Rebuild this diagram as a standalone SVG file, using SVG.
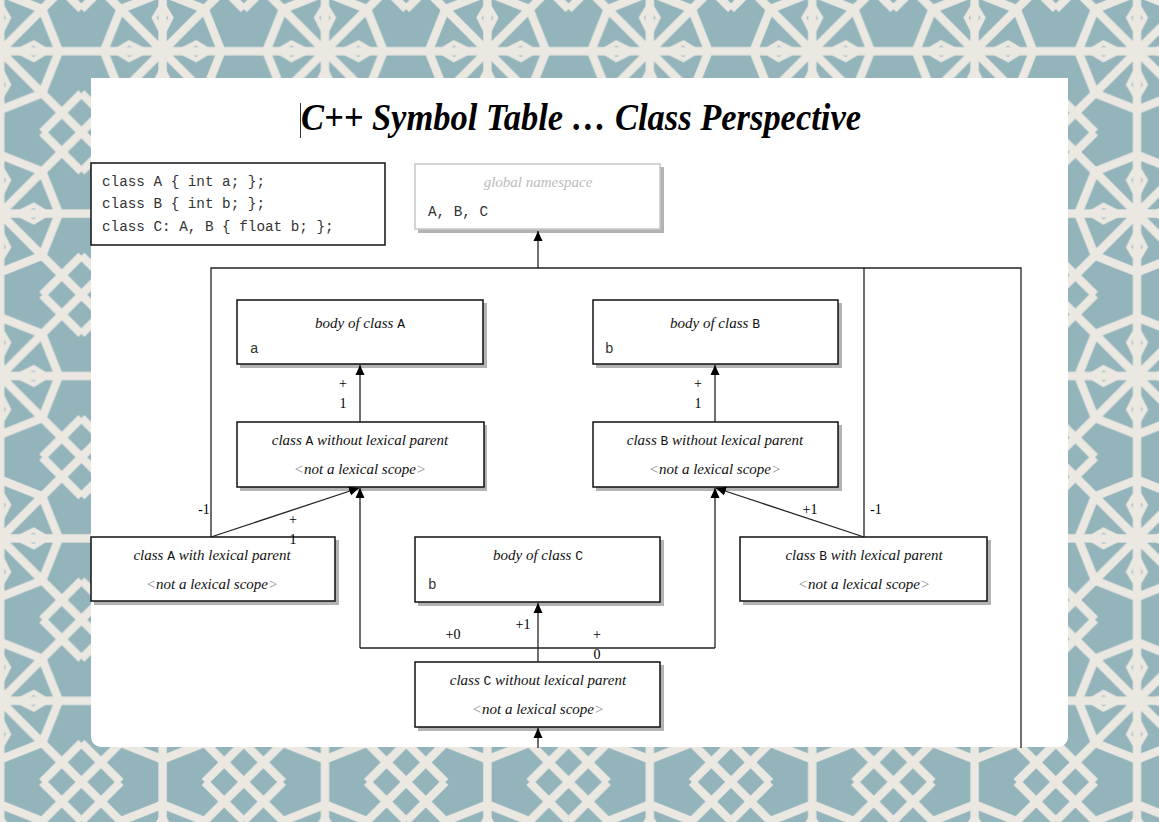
<svg xmlns="http://www.w3.org/2000/svg" width="1159" height="822" viewBox="0 0 1159 822">
<defs>
  <pattern id="bg" x="0" y="0" width="116" height="116" patternUnits="userSpaceOnUse" patternTransform="translate(-81 -30) scale(1.4)">
    <rect width="116" height="116" fill="#94b4bc"/>
    <g stroke="#ebe8e2" stroke-width="6" fill="none" stroke-linejoin="miter">
      <path d="M58 58L0 0M58 58L116 0M58 58L0 116M58 58L116 116M58 58V0M58 58V116M58 58H0M58 58H116"/>
      <path d="M58 16L88 28L100 58L88 88L58 100L28 88L16 58L28 28Z"/>
      <path d="M0 28L28 0M88 0L116 28M116 88L88 116M28 116L0 88"/>
    </g>
    <g fill="none" stroke="#ebe8e2" stroke-width="3.5">
      <path d="M58 24l6 10l-6 12l-6-12z"/>
      <path d="M58 92l6-10l-6-12l-6 12z"/>
      <path d="M24 58l10 6l12-6l-12-6z"/>
      <path d="M92 58l-10 6l-12-6l12-6z"/>
    </g>
  </pattern>
  <marker id="ah" viewBox="0 0 10 10" refX="10" refY="5" markerWidth="10" markerHeight="10" markerUnits="userSpaceOnUse" orient="auto">
    <path d="M0 0.5L10 5L0 9.5Z" fill="#000"/>
  </marker>
  <style>
    .box{fill:#fff;stroke:#111;stroke-width:1.5}
    .gbox{fill:#fff;stroke:#c8c8c8;stroke-width:1.5}
    .sh{fill:#9a9a9a;opacity:0.75}
    .t{font-family:"Liberation Serif",serif;font-style:italic;font-size:15px;fill:#111;text-anchor:middle}
    .m{font-family:"Liberation Mono",monospace;font-style:normal;font-size:13px}
    .code{font-family:"Liberation Mono",monospace;font-size:14.3px;fill:#333}
    .g{fill:#888}
    .lbl{font-family:"Liberation Serif",serif;font-size:14px;fill:#000;text-anchor:middle}
    .ln{fill:none;stroke:#222;stroke-width:1.3}
    .arr{fill:none;stroke:#222;stroke-width:1.3;marker-end:url(#ah)}
  </style>
</defs>
<rect width="1159" height="822" fill="url(#bg)"/>
<path d="M91 78H1068V737a10 10 0 0 1-10 10H101a10 10 0 0 1-10-10Z" fill="#fff"/>

<g id="title">
  <line x1="300.5" y1="103" x2="300.5" y2="138" stroke="#333" stroke-width="1"/>
  <text x="581" y="130" font-family="Liberation Serif,serif" font-weight="bold" font-style="italic" font-size="37" text-anchor="middle" textLength="560" lengthAdjust="spacingAndGlyphs" fill="#000">C++ Symbol Table … Class Perspective</text>
</g>

<g id="code">
  <rect class="box" x="91" y="163" width="294" height="82" stroke-width="1.3"/>
  <text class="code" x="102" y="186">class A { int a; };</text>
  <text class="code" x="102" y="208">class B { int b; };</text>
  <text class="code" x="102" y="231">class C: A, B { float b; };</text>
</g>

<g id="global">
  <rect class="sh" x="418" y="167" width="246" height="66"/>
  <rect class="gbox" x="415" y="164" width="245" height="65"/>
  <text class="t" x="538" y="187" style="fill:#bbb">global namespace</text>
  <text class="code" x="428" y="216">A, B, C</text>
</g>

<g id="bodyA">
  <rect class="sh" x="240" y="303" width="247" height="65"/>
  <rect class="box" x="237" y="300" width="246" height="64"/>
  <text class="t" x="360" y="328">body of class <tspan class="m">A</tspan></text>
  <text class="code" x="250" y="353" font-size="13">a</text>
</g>

<g id="bodyB">
  <rect class="sh" x="596" y="303" width="246" height="65"/>
  <rect class="box" x="593" y="300" width="245" height="64"/>
  <text class="t" x="715" y="328">body of class <tspan class="m">B</tspan></text>
  <text class="code" x="605" y="353" font-size="13">b</text>
</g>

<g id="classA-nolex">
  <rect class="sh" x="240" y="425" width="247" height="66"/>
  <rect class="box" x="237" y="422" width="247" height="65"/>
  <text class="t" x="360" y="445">class <tspan class="m">A</tspan> without lexical parent</text>
  <text class="t" x="360" y="474"><tspan class="g">&lt;</tspan>not a lexical scope<tspan class="g">&gt;</tspan></text>
</g>

<g id="classB-nolex">
  <rect class="sh" x="596" y="425" width="246" height="66"/>
  <rect class="box" x="593" y="422" width="245" height="65"/>
  <text class="t" x="715" y="445">class <tspan class="m">B</tspan> without lexical parent</text>
  <text class="t" x="715" y="474"><tspan class="g">&lt;</tspan>not a lexical scope<tspan class="g">&gt;</tspan></text>
</g>

<g id="classA-lex">
  <rect class="sh" x="94" y="540" width="245" height="65"/>
  <rect class="box" x="91" y="537" width="244" height="64"/>
  <text class="t" x="212" y="560">class <tspan class="m">A</tspan> with lexical parent</text>
  <text class="t" x="212" y="589"><tspan class="g">&lt;</tspan>not a lexical scope<tspan class="g">&gt;</tspan></text>
</g>

<g id="bodyC">
  <rect class="sh" x="418" y="540" width="246" height="66"/>
  <rect class="box" x="415" y="537" width="245" height="65"/>
  <text class="t" x="538" y="560">body of class <tspan class="m">C</tspan></text>
  <text class="code" x="428" y="589" font-size="13">b</text>
</g>

<g id="classB-lex">
  <rect class="sh" x="743" y="540" width="248" height="65"/>
  <rect class="box" x="740" y="537" width="247" height="64"/>
  <text class="t" x="864" y="560">class <tspan class="m">B</tspan> with lexical parent</text>
  <text class="t" x="864" y="589"><tspan class="g">&lt;</tspan>not a lexical scope<tspan class="g">&gt;</tspan></text>
</g>

<g id="classC-nolex">
  <rect class="sh" x="418" y="665" width="246" height="66"/>
  <rect class="box" x="415" y="662" width="245" height="65"/>
  <text class="t" x="538" y="685">class <tspan class="m">C</tspan> without lexical parent</text>
  <text class="t" x="538" y="714"><tspan class="g">&lt;</tspan>not a lexical scope<tspan class="g">&gt;</tspan></text>
</g>

<g id="connectors">
  <path class="arr" d="M538 268V231"/>
  <path class="ln" d="M211 537V268H1021V748"/>
  <path class="ln" d="M864 268V537"/>
  <path class="arr" d="M360 422V365"/>
  <path class="arr" d="M715 422V365"/>
  <path class="arr" d="M211 537L359 488"/>
  <path class="arr" d="M864 537L716 488"/>
  <path class="arr" d="M538 662V603"/>
  <path class="ln" d="M538 648H360"/>
  <path class="arr" d="M360 648V488"/>
  <path class="ln" d="M538 648H715"/>
  <path class="arr" d="M715 648V488"/>
  <path class="arr" d="M538 748V728"/>
  <text class="lbl" x="343" y="388">+</text>
  <text class="lbl" x="343" y="408">1</text>
  <text class="lbl" x="698" y="388">+</text>
  <text class="lbl" x="698" y="408">1</text>
  <text class="lbl" x="204" y="514">-1</text>
  <text class="lbl" x="293" y="524">+</text>
  <text class="lbl" x="293" y="544">1</text>
  <text class="lbl" x="810" y="514">+1</text>
  <text class="lbl" x="876" y="514">-1</text>
  <text class="lbl" x="523" y="629">+1</text>
  <text class="lbl" x="453" y="639">+0</text>
  <text class="lbl" x="597" y="639">+</text>
  <text class="lbl" x="597" y="659">0</text>
</g>
</svg>
